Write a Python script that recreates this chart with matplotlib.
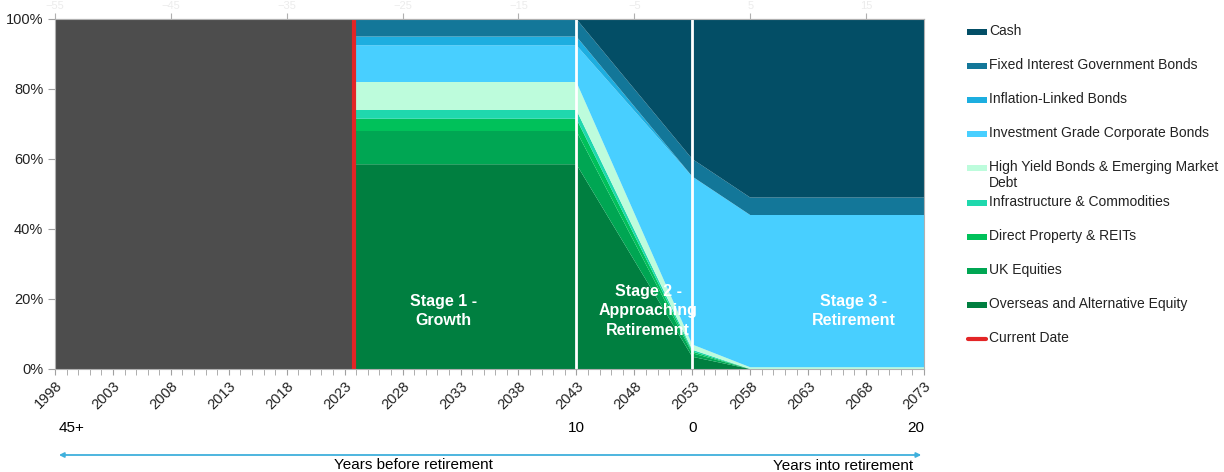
import matplotlib
matplotlib.use('Agg')
import matplotlib.pyplot as plt
from matplotlib.patches import Rectangle
from matplotlib.lines import Line2D
from matplotlib.ticker import MultipleLocator, FuncFormatter
import numpy as np

plt.rcParams['font.family'] = ['Liberation Sans', 'DejaVu Sans']

# glide path key points (year, % allocation)
hist_years = [1998, 2023.8]
hist_share = [100, 100]

years = [2023.8, 2043, 2053, 2058, 2073]
overseas = [58.5, 58.5, 3.5, 0.0, 0.0]
uk_equities = [9.5, 9.5, 1.0, 0.0, 0.0]
property_reits = [3.5, 3.5, 0.5, 0.0, 0.0]
infra_comm = [2.5, 2.5, 0.5, 0.0, 0.0]
high_yield = [8.0, 8.0, 1.5, 0.5, 0.5]
ig_corp = [10.5, 10.5, 48.0, 43.5, 43.5]
inflation_linked = [2.5, 2.5, 0.0, 0.0, 0.0]
gov_bonds = [5.0, 5.0, 5.0, 5.0, 5.0]
cash = [0.0, 0.0, 40.0, 51.0, 51.0]

current_date = 2023.8
stage_breaks = [2043, 2053]
retirement_year = 2053

series = [overseas, uk_equities, property_reits, infra_comm, high_yield,
          ig_corp, inflation_linked, gov_bonds, cash]
names = ['Overseas and Alternative Equity', 'UK Equities', 'Direct Property & REITs',
         'Infrastructure & Commodities', 'High Yield Bonds & Emerging Market\nDebt',
         'Investment Grade Corporate Bonds', 'Inflation-Linked Bonds',
         'Fixed Interest Government Bonds', 'Cash']
colors = ['#007f40', '#00a653', '#00c15a', '#1fd8ad', '#bdfcdc',
          '#48cfff', '#1daee0', '#137799', '#034e66']

stages = ['Stage 1 -\nGrowth', 'Stage 2 -\nApproaching\nRetirement', 'Stage 3 -\nRetirement']
stage_x = [2031.5, 2049.2, 2066.9]

fig = plt.figure(figsize=(12.24, 4.72), dpi=100)
ax = fig.add_axes([55/1224, 1-369/472, 869/1224, 350/472])

ax.fill_between(hist_years, 0, hist_share, color='#4d4d4d', lw=0)
ax.stackplot(years, *series, colors=colors, lw=0)
for b in stage_breaks:
    ax.axvline(b, color='white', lw=2)
ax.axvline(current_date, color='#e32526', lw=3)

for s, x in zip(stages, stage_x):
    ax.text(x, 16.6, s, color='white', fontsize=11.5, fontweight='bold',
            ha='center', va='center', linespacing=1.35)

ax.set_xlim(1998, 2073)
ax.set_ylim(0, 100)
ax.set_xticks(np.arange(1998, 2074, 5))
ax.xaxis.set_minor_locator(MultipleLocator(1))
ax.set_yticks(np.arange(0, 101, 20))
ax.yaxis.set_major_formatter(FuncFormatter(lambda v, p: '%d%%' % v))
for lab in ax.get_xticklabels():
    lab.set_rotation(45)
    lab.set_ha('right')
    lab.set_rotation_mode('anchor')
ax.tick_params(axis='x', which='both', length=4, color='#a0a0a0', labelsize=10.5,
               labelcolor='#222222', pad=3)
ax.tick_params(axis='y', length=5, color='#a0a0a0', labelsize=10.5, labelcolor='#222222')
for sp in ax.spines.values():
    sp.set_color('#b0b0b0')

top = ax.secondary_xaxis('top', functions=(lambda x: x - retirement_year,
                                           lambda x: x + retirement_year))
top.set_xticks(np.arange(-55, 16, 10))
top.tick_params(length=4, color='#b0b0b0', labelsize=8, labelcolor='#ececec', pad=2)
top.spines['top'].set_color('#b0b0b0')

# years-to-retirement markers under the axis
blend = ('data', 'figure fraction')
ax.annotate('45+', xy=(1999.4, 1-428/472), xycoords=blend, ha='center', va='center',
            fontsize=11, annotation_clip=False)
ax.annotate('10', xy=(2043, 1-428/472), xycoords=blend, ha='center', va='center',
            fontsize=11, annotation_clip=False)
ax.annotate('0', xy=(2053, 1-428/472), xycoords=blend, ha='center', va='center',
            fontsize=11, annotation_clip=False)
ax.annotate('20', xy=(2073, 1-428/472), xycoords=blend, ha='right', va='center',
            fontsize=11, annotation_clip=False)
ax.annotate('', xy=(1998.1, 1-455/472), xytext=(2073, 1-455/472), xycoords=blend,
            textcoords=blend, annotation_clip=False,
            arrowprops=dict(arrowstyle='<|-|>', color='#3fb0dc', lw=1.3, mutation_scale=7))
ax.annotate('Years before retirement', xy=(2028.9, 1-458/472), xycoords=blend,
            ha='center', va='top', fontsize=11, annotation_clip=False)
ax.annotate('Years into retirement', xy=(2066, 1-459/472), xycoords=blend,
            ha='center', va='top', fontsize=11, annotation_clip=False)

# legend on the right, top entry first
leg_names = names[::-1] + ['Current Date']
leg_colors = colors[::-1] + ['#e32526']
for i, (nm, c) in enumerate(zip(leg_names, leg_colors)):
    yc = 1 - (32 + 34.1 * i) / 472
    if nm == 'Current Date':
        fig.add_artist(Line2D([968/1224, 986/1224], [yc, yc], color=c, lw=3,
                              solid_capstyle='round'))
    else:
        fig.add_artist(Rectangle((967/1224, yc - 3/472), 20/1224, 6/472,
                                 color=c, lw=0))
    fig.text(989/1224, yc + 8/472, nm, fontsize=10, va='top', ha='left',
             color='#222222', linespacing=1.15)

fig.savefig('out.png', dpi=100)
